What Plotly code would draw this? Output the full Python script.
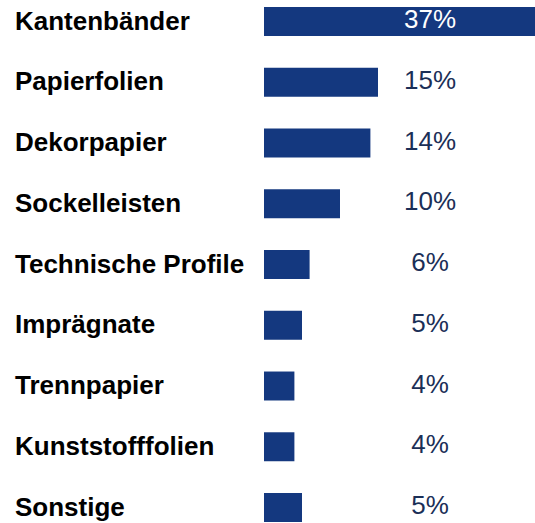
import plotly.graph_objects as go

categories = ["Kantenbänder", "Papierfolien", "Dekorpapier", "Sockelleisten",
              "Technische Profile", "Imprägnate", "Trennpapier", "Kunststofffolien", "Sonstige"]
shares = [37, 15, 14, 10, 6, 5, 4, 4, 5]
labels = [f"{v}%" for v in shares]

BAR = "#14387F"
NAVY = "#1B2F57"

W, H = 535, 523
left = 264
px_per_pct = 7.6
x_max = (W - left) / px_per_pct

fig = go.Figure()
fig.add_trace(go.Bar(
    x=shares, y=categories, orientation="h",
    marker=dict(color=BAR, line=dict(width=0)),
    width=0.477, hoverinfo="skip", cliponaxis=True,
))
label_x = (430 - left) / px_per_pct
fig.add_trace(go.Scatter(
    x=[label_x] * len(categories), y=categories, mode="text",
    text=labels,
    textfont=dict(family="Liberation Sans, Arial, sans-serif", size=26,
                  color=["#FFFFFF" if v >= label_x else NAVY for v in shares]),
    textposition="middle center", hoverinfo="skip",
))
for c in categories:
    fig.add_annotation(
        x=(13 - left) / (W - left), xref="paper", xanchor="left",
        y=c, yref="y", yanchor="middle", yshift=1,
        text=f"<b>{c}</b>", showarrow=False,
        font=dict(family="Liberation Sans, Arial, sans-serif", size=26, color="#000000"),
    )

fig.update_layout(
    width=W, height=H,
    margin=dict(l=left, r=0, t=0, b=0),
    plot_bgcolor="white", paper_bgcolor="white",
    showlegend=False,
    xaxis=dict(range=[0, x_max], visible=False, fixedrange=True),
    yaxis=dict(type="category", categoryorder="array", categoryarray=categories,
               range=[8.255, -0.354], visible=False, fixedrange=True),
)

fig.write_html(
    "out.html",
    config={"displayModeBar": False},
    post_script="document.body.style.margin='0';document.body.style.overflow='hidden';",
)
